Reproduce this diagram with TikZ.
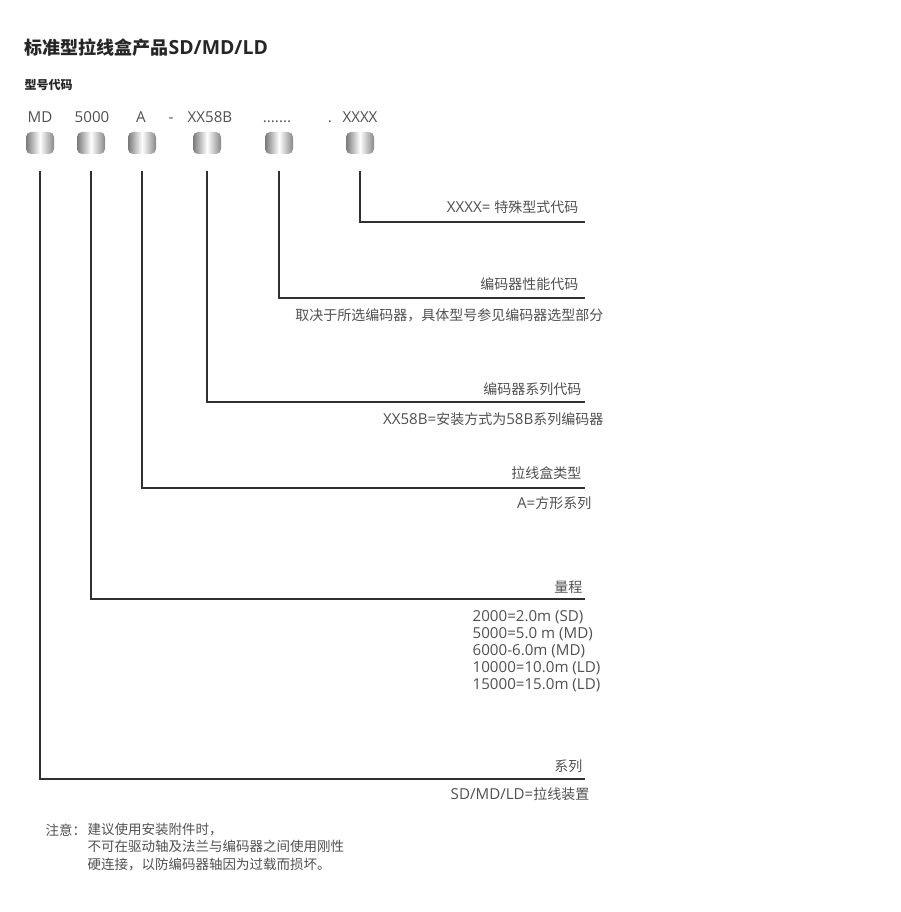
\documentclass[tikz,border=0pt]{standalone}
\usepackage{fontspec}
\setmainfont{Noto Sans CJK SC}
\newfontfamily\lat{Open Sans}[Scale=1.08]
\usetikzlibrary{positioning}
\definecolor{ctext}{HTML}{505050}
\definecolor{ctitle}{HTML}{262626}
\definecolor{cline}{HTML}{303030}
\definecolor{cbox}{HTML}{7A7A7A}
\tikzset{
  every picture/.style={line width=1.3pt},
  codebox/.style={minimum width=28pt, minimum height=22pt, rounded corners=5pt, inner sep=0pt,
    left color=cbox, right color=cbox!90, middle color=white},
  code/.style={font=\fontsize{14}{16}\selectfont\lat, text=ctext, inner sep=0pt, anchor=base},
  label/.style={font=\fontsize{14}{17}\selectfont, text=ctext, inner sep=0pt, anchor=east},
  desc/.style={font=\fontsize{14}{17}\selectfont\lat, text=ctext, inner sep=0pt, align=left},
  lead/.style={draw=cline, line width=1.3pt},
  title/.style={font=\fontsize{18}{20}\selectfont\bfseries, text=ctitle, anchor=west, inner sep=0pt},
  subtitle/.style={font=\fontsize{12}{14}\selectfont\bfseries, text=ctitle, anchor=west, inner sep=0pt},
  note/.style={font=\fontsize{13.5}{17.5}\selectfont, text=ctext, inner sep=0pt, align=left},
}

\begin{document}
\begin{tikzpicture}[x=1pt, y=-1pt]
  \useasboundingbox (0,0) rectangle (900,912);
  \node[title] (head) at (24,48) {标准型拉线盒产品{\lat SD/MD/LD}};
  \node[subtitle] (sub) at (24,85) {型号代码};
  % code letters
  \node[code] (cMD) at (40,123) {MD};
  \node[code] (cLen) at (92,123) {5000};
  \node[code] (cType) at (141,123) {A};
  \node[code] (cDash) at (171,123) {-};
  \node[code] (cEnc) at (210,123) {XX58B};
  \node[code] (cPerf) at (277,123) {.......};
  \node[code] (cDot) at (330,123) {.};
  \node[code] (cSpec) at (360,123) {XXXX};
  % shaded boxes
  \node[codebox] (bMD) at (40,143) {};
  \node[codebox] (bLen) at (91,143) {};
  \node[codebox] (bType) at (142,143) {};
  \node[codebox] (bEnc) at (207,143) {};
  \node[codebox] (bPerf) at (279,143) {};
  \node[codebox] (bSpec) at (360,143) {};
  % ends of the leader lines
  \coordinate (eSpec) at (585,222);
  \coordinate (ePerf) at (585,298);
  \coordinate (eEnc) at (585,402);
  \coordinate (eType) at (585,488);
  \coordinate (eLen) at (585,599);
  \coordinate (eMD) at (585,779);
  \draw[lead] ([yshift=-16pt]bSpec.south) |- (eSpec);
  \draw[lead] ([yshift=-16pt]bPerf.south) |- (ePerf);
  \draw[lead] ([yshift=-16pt]bEnc.south) |- (eEnc);
  \draw[lead] ([yshift=-16pt]bType.south) |- (eType);
  \draw[lead] ([yshift=-16pt]bLen.south) |- (eLen);
  \draw[lead] ([yshift=-16pt]bMD.south) |- (eMD);
  % labels
  \node[label] (lSpec) at (579,207) {{\lat XXXX= }特殊型式代码};
  \node[label] (lPerf) at (579,284) {编码器性能代码};
  \node[label] (dPerf) at (604,315) {取决于所选编码器，具体型号参见编码器选型部分};
  \node[label] (lEnc) at (582,389) {编码器系列代码};
  \node[label] (dEnc) at (604,419) {{\lat XX58B=}安装方式为{\lat 58B}系列编码器};
  \node[label] (lType) at (582,473) {拉线盒类型};
  \node[label] (dType) at (592,503) {{\lat A=}方形系列};
  \node[label] (lLen) at (583,587) {量程};
  \node[desc, anchor=north west] (dLen) at (472,610) {2000=2.0m (SD)\\5000=5.0 m (MD)\\6000-6.0m (MD)\\10000=10.0m (LD)\\15000=15.0m (LD)};
  \node[label] (lMD) at (583,766) {系列};
  \node[label] (dMD) at (590,794) {{\lat SD/MD/LD=}拉线装置};
  % note
  \node[note, anchor=west] (notehead) at (45,830) {注意：};
  \node[note, anchor=north west] (notebody) at (87,822) {建议使用安装附件时，\\不可在驱动轴及法兰与编码器之间使用刚性\\硬连接，以防编码器轴因为过载而损坏。};
\end{tikzpicture}
\end{document}
